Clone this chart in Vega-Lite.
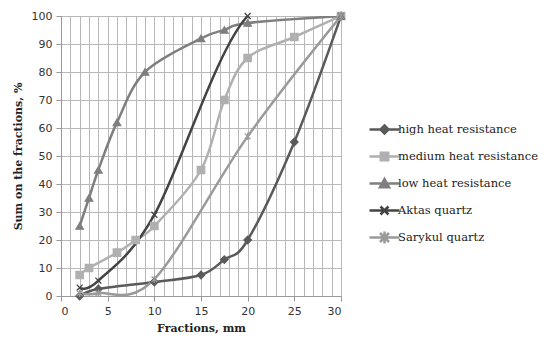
{
  "$schema": "https://vega.github.io/schema/vega-lite/v6.json",
  "width": 280,
  "height": 280,
  "autosize": "none",
  "padding": {"left": 61, "top": 16, "right": 203, "bottom": 47},
  "background": "white",
  "config": {"view": {"stroke": null}, "font": "DejaVu Sans",
    "legend": {"orient": "none", "legendX": 312, "legendY": 102, "title": null,
      "labelFont": "DejaVu Serif", "labelFontSize": 11.5, "labelColor": "#222",
      "rowPadding": 6, "symbolSize": 400, "labelOffset": 2, "symbolStrokeWidth": 2.5}},
  "data": {"values": [
    {"series": "high heat resistance", "x": 2, "y": 0},
    {"series": "high heat resistance", "x": 4, "y": 2.5},
    {"series": "high heat resistance", "x": 10, "y": 5},
    {"series": "high heat resistance", "x": 15, "y": 7.5},
    {"series": "high heat resistance", "x": 17.5, "y": 13},
    {"series": "high heat resistance", "x": 20, "y": 20},
    {"series": "high heat resistance", "x": 25, "y": 55},
    {"series": "high heat resistance", "x": 30, "y": 100},
    {"series": "medium heat resistance", "x": 2, "y": 7.5},
    {"series": "medium heat resistance", "x": 3, "y": 10},
    {"series": "medium heat resistance", "x": 6, "y": 15.5},
    {"series": "medium heat resistance", "x": 8, "y": 20},
    {"series": "medium heat resistance", "x": 10, "y": 25},
    {"series": "medium heat resistance", "x": 15, "y": 45},
    {"series": "medium heat resistance", "x": 17.5, "y": 70},
    {"series": "medium heat resistance", "x": 20, "y": 85},
    {"series": "medium heat resistance", "x": 25, "y": 92.5},
    {"series": "medium heat resistance", "x": 30, "y": 100},
    {"series": "low heat resistance", "x": 2, "y": 25},
    {"series": "low heat resistance", "x": 3, "y": 35},
    {"series": "low heat resistance", "x": 4, "y": 45},
    {"series": "low heat resistance", "x": 6, "y": 62},
    {"series": "low heat resistance", "x": 9, "y": 80},
    {"series": "low heat resistance", "x": 15, "y": 92},
    {"series": "low heat resistance", "x": 17.5, "y": 95},
    {"series": "low heat resistance", "x": 20, "y": 97.5},
    {"series": "low heat resistance", "x": 30, "y": 100},
    {"series": "Aktas quartz", "x": 2, "y": 3},
    {"series": "Aktas quartz", "x": 4, "y": 5.5},
    {"series": "Aktas quartz", "x": 10, "y": 29},
    {"series": "Aktas quartz", "x": 20, "y": 100},
    {"series": "Aktas quartz", "x": 30, "y": 100},
    {"series": "Sarykul quartz", "x": 2, "y": 1},
    {"series": "Sarykul quartz", "x": 4, "y": 1},
    {"series": "Sarykul quartz", "x": 10, "y": 6},
    {"series": "Sarykul quartz", "x": 20, "y": 57},
    {"series": "Sarykul quartz", "x": 30, "y": 100}
  ]},
  "encoding": {
    "x": {
      "field": "x", "type": "quantitative",
      "scale": {"domain": [0, 30], "nice": false},
      "axis": {
        "title": "Fractions, mm",
        "titleFont": "DejaVu Serif", "titleFontSize": 11, "titleFontWeight": "bold", "titleColor": "#222",
        "titlePadding": 6,
        "values": [0,1,2,3,4,5,6,7,8,9,10,11,12,13,14,15,16,17,18,19,20,21,22,23,24,25,26,27,28,29,30],
        "labelExpr": "datum.value % 5 === 0 ? datum.label : ''",
        "labelFont": "DejaVu Sans", "labelFontSize": 11, "labelColor": "#333", "labelPadding": 4,
        "tickColor": {"condition": {"test": "datum.value % 5 === 0", "value": "#999"}, "value": "transparent"},
        "tickSize": 5,
        "grid": true, "gridColor": "#b8b8b8", "gridWidth": 1,
        "domainColor": "#999"
      }
    },
    "y": {
      "field": "y", "type": "quantitative",
      "scale": {"domain": [0, 100], "nice": false},
      "axis": {
        "title": "Sum on the fractions, %",
        "titleFont": "DejaVu Serif", "titleFontSize": 11, "titleFontWeight": "bold", "titleColor": "#222",
        "titlePadding": 8,
        "values": [0,10,20,30,40,50,60,70,80,90,100],
        "labelFont": "DejaVu Sans", "labelFontSize": 11, "labelColor": "#333", "labelPadding": 4,
        "tickColor": "#999", "tickSize": 5,
        "grid": true, "gridColor": "#b8b8b8", "gridWidth": 1,
        "domainColor": "#999"
      }
    }
  },
  "layer": [
    {
      "mark": {"type": "line", "interpolate": "cardinal", "tension": 0, "clip": true, "strokeWidth": 2.5},
      "encoding": {
        "color": {
          "field": "series", "type": "nominal",
          "scale": {
            "domain": ["high heat resistance", "medium heat resistance", "low heat resistance", "Aktas quartz", "Sarykul quartz"],
            "range": ["#5a5a5a", "#b0b0b0", "#7f7f7f", "#444444", "#9a9a9a"]
          },
          "legend": {
            "encode": {
              "symbols": {
                "update": {
                  "shape": {"signal": "datum.value === 'high heat resistance' ? 'M-1.5,0L1.5,0M0,-0.4L0.4,0L0,0.4L-0.4,0Z' : datum.value === 'medium heat resistance' ? 'M-1.5,0L1.5,0M-0.37,-0.37L0.37,-0.37L0.37,0.37L-0.37,0.37Z' : datum.value === 'low heat resistance' ? 'M-1.5,0L1.5,0M0,-0.45L0.45,0.37L-0.45,0.37Z' : datum.value === 'Aktas quartz' ? 'M-1.5,0L1.5,0M-0.4,-0.4L0.4,0.4M0.4,-0.4L-0.4,0.4' : 'M-1.5,0L1.5,0M-0.45,-0.45L0.45,0.45M0.45,-0.45L-0.45,0.45M0,-0.6L0,0.6'"},
                  "fill": {"scale": "color", "field": "value"},
                  "stroke": {"scale": "color", "field": "value"},
                  "strokeWidth": {"value": 2.5},
                  "size": {"value": 400}
                }
              }
            }
          }
        }
      }
    },
    {
      "mark": {"type": "point", "filled": true, "opacity": 1, "strokeWidth": 1.3},
      "encoding": {
        "fill": {
          "field": "series", "type": "nominal",
          "scale": {
            "domain": ["high heat resistance", "medium heat resistance", "low heat resistance", "Aktas quartz", "Sarykul quartz", "_"],
            "range": ["#5a5a5a", "#b0b0b0", "#7f7f7f", "#444444", "#9a9a9a", "#000000"]
          },
          "legend": null
        },
        "stroke": {
          "field": "series", "type": "nominal",
          "scale": {
            "domain": ["high heat resistance", "medium heat resistance", "low heat resistance", "Aktas quartz", "Sarykul quartz", "_"],
            "range": ["#5a5a5a", "#b0b0b0", "#7f7f7f", "#444444", "#9a9a9a", "#000000"]
          },
          "legend": null
        },
        "shape": {
          "field": "series", "type": "nominal",
          "scale": {
            "domain": ["high heat resistance", "medium heat resistance", "low heat resistance", "Aktas quartz", "Sarykul quartz", "_"],
            "range": ["diamond", "square", "triangle-up", "M-0.8,-0.8L0.8,0.8M0.8,-0.8L-0.8,0.8", "M-0.75,-0.75L0.75,0.75M0.75,-0.75L-0.75,0.75M0,-1L0,1", "circle"]
          },
          "legend": null
        },
        "size": {"value": 55}
      }
    }
  ]
}
